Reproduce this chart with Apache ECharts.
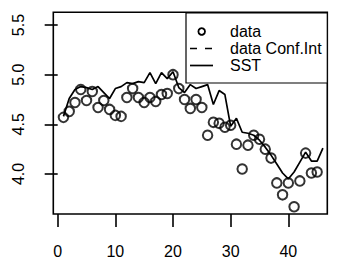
<!DOCTYPE html>
<html><head><meta charset="utf-8">
<script src="https://cdn.jsdelivr.net/npm/echarts@6/dist/echarts.min.js"></script>
<style>html,body{margin:0;padding:0;background:#fff}#c{width:338px;height:262px}</style>
</head><body><div id="c"></div>
<script>
const dataX = [1,2,3,4,5,6,7,8,9,10,11,12,13,14,15,16,17,18,19,20,21,22,23,24,25,26,27,28,29,30,31,32,33,34,35,36,37,38,39,40,41,42,43,44,45];
const dataValues = [4.57,4.63,4.72,4.85,4.74,4.83,4.67,4.74,4.65,4.59,4.58,4.77,4.86,4.77,4.72,4.77,4.73,4.80,4.81,5.00,4.86,4.75,4.66,4.75,4.67,4.39,4.52,4.51,4.47,4.49,4.30,4.05,4.29,4.39,4.35,4.25,4.16,3.91,3.79,3.91,3.67,3.93,4.21,4.01,4.02];
const sstX = [1,2,3,4,5,6,7,8,9,10,11,12,13,14,15,16,17,18,19,20,21,22,23,24,25,26,27,28,29,30,31,32,33,34,35,36,37,38,39,40,41,42,43,44,45,46];
const sstValues = [4.58,4.76,4.85,4.88,4.87,4.85,4.88,4.82,4.76,4.86,4.88,4.92,4.91,4.93,4.92,5.02,4.91,5.02,4.96,5.03,4.87,4.82,4.90,4.86,4.88,4.90,4.70,4.84,4.80,4.48,4.56,4.42,4.41,4.39,4.34,4.27,4.19,4.10,4.01,3.95,4.02,4.12,4.22,4.13,4.13,4.26];
const confValues = [];
const xTicks = [0,10,20,30,40];
const yTicks = [4.0,4.5,5.0,5.5];
const legendLabels = ['data','data Conf.Int','SST'];

const FONT = '"Liberation Sans", Arial, Helvetica, sans-serif';
const chart = echarts.init(document.getElementById('c'), null, {renderer:'svg'});
const pts = dataX.map((x,i)=>[x,dataValues[i]]);
const sst = sstX.map((x,i)=>[x,sstValues[i]]);
const legendTop = 13, rowH = 17;
chart.setOption({
  animation:false,
  backgroundColor:'#fff',
  grid:{left:53.3,right:10.7,top:12.3,bottom:48,show:true,borderColor:'#000',borderWidth:1.6,backgroundColor:'transparent'},
  xAxis:{type:'value',min:-0.76,max:46.76,
    axisLine:{show:false},splitLine:{show:false},
    axisTick:{show:true,customValues:xTicks,length:13,lineStyle:{color:'#000',width:1.6}},
    axisLabel:{customValues:xTicks,fontSize:16,fontFamily:FONT,color:'#000',margin:29,formatter:v=>String(v)}},
  yAxis:{type:'value',min:3.597,max:5.628,
    axisLine:{show:false},splitLine:{show:false},
    axisTick:{show:true,customValues:yTicks,length:13,lineStyle:{color:'#000',width:1.6}},
    axisLabel:{customValues:yTicks,fontSize:16,fontFamily:FONT,color:'#000',margin:27,rotate:90,formatter:v=>v.toFixed(1)}},
  series:[
    {name:legendLabels[0],type:'scatter',data:pts,symbol:'circle',symbolSize:9.5,
     itemStyle:{color:'rgba(0,0,0,0)',borderColor:'#000',borderWidth:2},z:3},
    {name:legendLabels[1],type:'line',data:confValues,showSymbol:false,lineStyle:{color:'#000',width:1.7,type:'dashed'}},
    {name:legendLabels[2],type:'line',data:sst,showSymbol:false,lineStyle:{color:'#000',width:1.7},z:4}
  ],
  graphic:[
    {type:'rect',shape:{x:186,y:legendTop,width:141.3,height:70},style:{fill:'#fff',stroke:'#000',lineWidth:1.2},z:10},
    {type:'circle',shape:{cx:201.7,cy:legendTop+18.5,r:3.3},style:{fill:'none',stroke:'#000',lineWidth:1.8},z:11},
    {type:'line',shape:{x1:190,y1:legendTop+18.5+rowH,x2:213,y2:legendTop+18.5+rowH},style:{stroke:'#000',lineWidth:1.7,lineDash:[7,8]},z:11},
    {type:'line',shape:{x1:190,y1:legendTop+18.5+2*rowH,x2:213,y2:legendTop+18.5+2*rowH},style:{stroke:'#000',lineWidth:1.7},z:11},
    {type:'text',x:230,y:legendTop+18.5,style:{text:legendLabels[0],font:'16px '+FONT,fill:'#000',verticalAlign:'middle'},z:11},
    {type:'text',x:230,y:legendTop+18.5+rowH,style:{text:legendLabels[1],font:'16px '+FONT,fill:'#000',verticalAlign:'middle'},z:11},
    {type:'text',x:230,y:legendTop+18.5+2*rowH,style:{text:legendLabels[2],font:'16px '+FONT,fill:'#000',verticalAlign:'middle'},z:11}
  ]
});
</script></body></html>
